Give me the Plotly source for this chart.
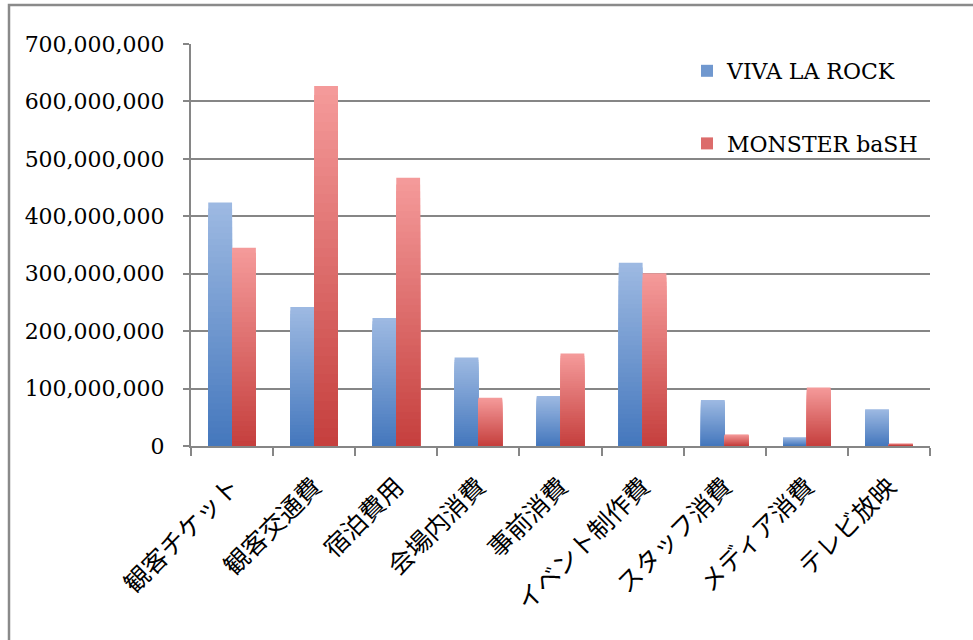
import plotly.graph_objects as go

categories = ["観客チケット", "観客交通費", "宿泊費用", "会場内消費", "事前消費",
              "イベント制作費", "スタッフ消費", "メディア消費", "テレビ放映"]
viva = [424e6, 242e6, 223e6, 154e6, 87e6, 319e6, 80e6, 15e6, 64e6]
monster = [345e6, 627e6, 467e6, 84e6, 161e6, 301e6, 20e6, 102e6, 4e6]
series_names = ["VIVA LA ROCK", "MONSTER baSH"]
y_ticks = [0, 100e6, 200e6, 300e6, 400e6, 500e6, 600e6, 700e6]
y_tick_text = ["0", "100,000,000", "200,000,000", "300,000,000", "400,000,000",
               "500,000,000", "600,000,000", "700,000,000"]

W, H = 973, 640
L, R, T, B = 191, 43, 44, 194
PW, PH = W - L - R, H - T - B

def px_x(p):
    return (p - L) / PW

def px_y(p):
    return (H - B - p) / PH

def lerp(c1, c2, t):
    return "rgb(%d,%d,%d)" % tuple(round(a + (b - a) * t) for a, b in zip(c1, c2))

grad = {
    0: ((68, 119, 189), (158, 186, 226)),
    1: ((197, 63, 61), (245, 155, 155)),
}
offsets = [-0.29, 0.0]
bar_w = 0.29
N = 40

fig = go.Figure()
for si, vals in enumerate([viva, monster]):
    dark, light = grad[si]
    for k in range(N):
        frac = (N - k) / N          # fraction of full bar height this layer covers
        t = (N - k - 0.5) / N       # colour position of the top slice of this layer
        fig.add_trace(go.Bar(
            x=categories,
            y=[v * frac for v in vals],
            offset=offsets[si],
            width=bar_w,
            marker=dict(color=lerp(dark, light, t), line=dict(width=0)),
            name=series_names[si],
            legendgroup=series_names[si],
            showlegend=(k == N // 2),
            hoverinfo="skip",
        ))

fig.update_layout(
    width=W, height=H,
    margin=dict(l=L, r=R, t=T, b=B),
    barmode="overlay",
    plot_bgcolor="white",
    paper_bgcolor="white",
    font=dict(family="DejaVu Serif", size=22, color="black"),
    legend=dict(
        x=px_x(687), y=px_y(50), xanchor="left", yanchor="top",
        bgcolor="rgba(0,0,0,0)",
        traceorder="grouped",
        tracegroupgap=41,
        font=dict(family="DejaVu Serif", size=22, color="black"),
    ),
    xaxis=dict(
        type="category",
        tickson="boundaries",
        ticks="outside", ticklen=8, tickwidth=1.5, tickcolor="#868686",
        showline=True, linecolor="#868686", linewidth=2,
        tickangle=-45,
        tickfont=dict(family="Noto Sans CJK JP", size=25, color="black"),
        ticklabelstandoff=14,
        showgrid=False,
        range=[-0.5, 8.5],
    ),
    yaxis=dict(
        range=[0, 700e6],
        tickvals=y_ticks, ticktext=y_tick_text,
        ticks="outside", ticklen=6, tickwidth=1.5, tickcolor="#868686",
        showline=True, linecolor="#868686", linewidth=2,
        showgrid=True, gridcolor="#868686", gridwidth=1.5,
        zeroline=False,
        ticklabelstandoff=14,
    ),
    shapes=[
        dict(type="rect", xref="paper", yref="paper",
             x0=px_x(697), x1=px_x(990), y0=px_y(192), y1=px_y(36),
             fillcolor="white", line=dict(width=0), layer="between"),
        dict(type="rect", xref="paper", yref="paper",
             x0=px_x(9), x1=px_x(1000), y0=px_y(700), y1=px_y(5),
             fillcolor="rgba(0,0,0,0)", line=dict(color="#8a8a8a", width=2.5),
             layer="above"),
    ],
)

fig.write_html("out.html")
